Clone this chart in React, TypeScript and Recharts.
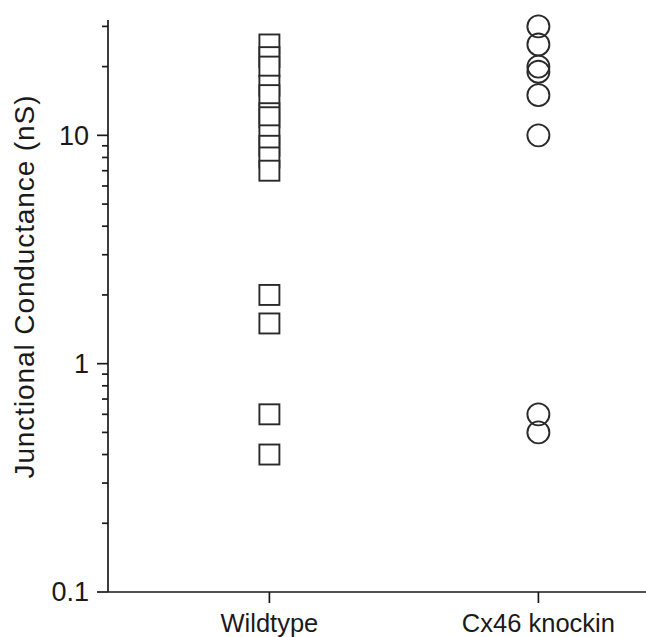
import React from 'react';
import { ScatterChart, Scatter, XAxis, YAxis, Label } from 'recharts';

const categories = ['Wildtype', 'Cx46 knockin'];
const wildtypeValues = [25, 22, 20, 16.5, 15, 12.5, 12, 10, 9, 8, 7, 2, 1.5, 0.6, 0.4];
const knockinValues = [30, 25, 20, 19, 15, 10, 0.6, 0.5];
const yMajorTicks = [0.1, 1, 10];
const yMinorTicks = [0.2, 0.3, 0.4, 0.5, 0.6, 0.7, 0.8, 0.9, 2, 3, 4, 5, 6, 7, 8, 9, 20, 30];

const ink = '#1a1a1a';
const font = '"Liberation Sans", Arial, Helvetica, sans-serif';

const wildtypeData = wildtypeValues.map((v) => ({ x: 1, y: v }));
const knockinData = knockinValues.map((v) => ({ x: 2, y: v }));

const SquareMark = ({ cx, cy }: any) => (
  <rect x={cx - 10} y={cy - 10} width={20} height={20} fill="#fff" stroke="#2a2a2a" strokeWidth={1.9} />
);

const CircleMark = ({ cx, cy }: any) => (
  <circle cx={cx} cy={cy} r={11} fill="none" stroke="#2a2a2a" strokeWidth={1.9} />
);

const YTick = ({ x, y, payload }: any) => {
  const major = yMajorTicks.includes(payload.value);
  return (
    <g>
      <line x1={x - (major ? 11 : 6)} x2={x} y1={y} y2={y} stroke={ink} strokeWidth={1.7} />
      {major && (
        <text x={x - 19} y={y} dy="0.35em" textAnchor="end" fontSize={27} fill={ink} fontFamily={font}>
          {payload.value}
        </text>
      )}
    </g>
  );
};

const XTick = ({ x, y, payload }: any) => (
  <text x={x} y={y} dy="0.71em" textAnchor="middle" fontSize={25.5} fill={ink} fontFamily={font}>
    {categories[payload.value - 1]}
  </text>
);

export default function App() {
  return (
    <div style={{ position: 'absolute', left: 0, top: 0, background: '#fff' }}>
      <ScatterChart width={646} height={637} margin={{ top: 20, right: 0, bottom: 0, left: 0 }}>
        <XAxis
          type="number"
          dataKey="x"
          domain={[0.4, 2.4]}
          ticks={[1, 2]}
          height={45}
          stroke={ink}
          strokeWidth={1.7}
          tickSize={11}
          tickMargin={11}
          tick={<XTick />}
        />
        <YAxis
          type="number"
          dataKey="y"
          scale="log"
          domain={[0.1, 32]}
          ticks={[...yMajorTicks, ...yMinorTicks].sort((a, b) => a - b)}
          interval={0}
          width={108}
          stroke={ink}
          strokeWidth={1.7}
          tickLine={false}
          tickSize={0}
          tickMargin={0}
          tick={<YTick />}
        >
          <Label
            content={() => (
              <text
                x={24}
                y={287}
                transform="rotate(-90 24 287)"
                textAnchor="middle"
                dominantBaseline="central"
                fontSize={28}
                textLength={383}
                lengthAdjust="spacing"
                fill={ink}
                fontFamily={font}
              >
                Junctional Conductance (nS)
              </text>
            )}
          />
        </YAxis>
        <Scatter data={wildtypeData} shape={<SquareMark />} isAnimationActive={false} />
        <Scatter data={knockinData} shape={<CircleMark />} isAnimationActive={false} />
      </ScatterChart>
    </div>
  );
}
